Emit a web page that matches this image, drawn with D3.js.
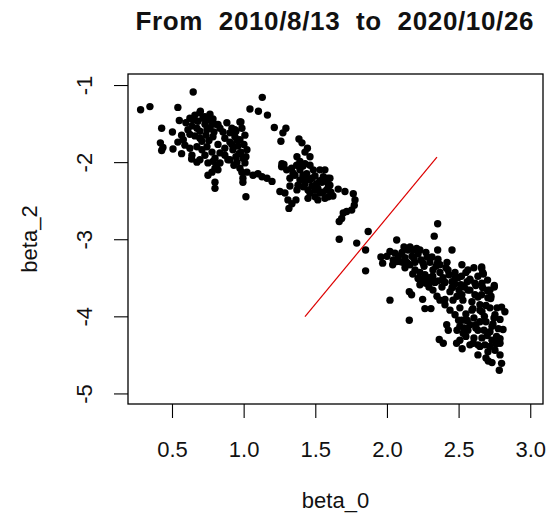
<!DOCTYPE html>
<html>
<head>
<meta charset="utf-8">
<script src="https://cdn.jsdelivr.net/npm/d3@7"></script>
<style>
  html, body { margin: 0; padding: 0; background: #fff; }
  svg text { font-family: "Liberation Sans", Arial, sans-serif; fill: #111; }
</style>
</head>
<body>
<svg id="chart" width="548" height="520"></svg>
<script>
// Daily estimates of the level (beta_0) and curvature (beta_2) factors
const beta0 = [
  0.648, 0.281, 0.346, 0.541, 0.698, 0.551, 0.428, 0.503, 0.567, 0.579,
  0.419, 0.437, 0.428, 0.507, 0.567, 0.637, 0.625, 0.660, 0.695, 0.730,
  0.765, 0.786, 0.681, 0.730, 0.639, 0.765, 0.807, 0.695, 0.737, 0.660,
  0.786, 0.709, 0.821, 0.856, 0.611, 0.751, 0.625, 0.674, 0.709, 0.744,
  0.779, 0.821, 0.835, 0.869, 0.890, 0.786, 0.695, 0.639, 0.674, 0.751,
  0.814, 0.800, 0.779, 0.751, 0.800, 0.800, 0.883, 0.918, 0.946, 0.974,
  0.988, 0.939, 0.974, 1.009, 0.904, 0.960, 1.002, 0.925, 0.981, 1.023,
  0.946, 0.995, 0.953, 1.009, 0.974, 1.023, 0.995, 0.995, 1.016, 0.904,
  0.835, 0.821, 1.065, 1.100, 1.128, 1.163, 1.198, 1.253, 1.288, 1.309,
  1.337, 1.316, 1.365, 1.130, 1.044, 1.103, 1.166, 0.981, 1.214, 1.295,
  1.274, 1.260, 1.386, 1.407, 1.445, 1.428, 1.463, 1.372, 1.393, 1.267,
  0.939, 1.265, 1.300, 1.335, 1.370, 1.428, 1.440, 1.393, 1.416, 1.463,
  1.509, 1.532, 1.579, 1.556, 1.486, 1.463, 1.591, 1.567, 1.358, 1.393,
  1.498, 1.518, 1.477, 1.428, 1.546, 1.602, 1.567, 1.498, 1.449, 1.379,
  1.323, 1.609, 1.579, 1.591, 1.602, 1.660, 1.707, 1.765, 1.777, 1.772,
  1.754, 1.719, 1.695, 1.684, 1.667, 1.869, 1.667, 1.789, 2.068, 1.851,
  1.851, 2.354, 2.330, 2.354, 2.454, 2.354, 1.958, 1.970, 2.021, 2.056,
  2.044, 2.068, 2.021, 2.156, 2.172, 2.249, 2.265, 2.307, 2.156, 2.417,
  2.428, 2.365, 2.525, 2.661, 2.668, 2.749, 2.719, 2.724, 2.800, 2.823,
  2.777, 2.765, 2.789, 2.707, 2.789, 2.800, 2.784, 2.161, 2.207, 2.393,
  2.486, 2.602, 2.649, 2.719, 2.532, 2.509, 2.105, 2.126, 2.147, 2.175,
  2.196, 2.217, 2.238, 2.259, 2.280, 2.300, 2.321, 2.342, 2.370, 2.391,
  2.412, 2.433, 2.454, 2.475, 2.496, 2.516, 2.161, 2.230, 2.286, 2.335,
  2.384, 2.440, 2.489, 2.196, 2.265, 2.126, 2.091, 2.356, 2.419, 2.405,
  2.349, 2.370, 2.293, 2.230, 2.523, 2.551, 2.579, 2.607, 2.635, 2.565,
  2.614, 2.668, 2.702, 2.593, 2.649, 2.704, 2.509, 2.551, 2.607, 2.663,
  2.719, 2.579, 2.635, 2.691, 2.747, 2.523, 2.475, 2.440, 2.489, 2.551,
  2.663, 2.719, 2.607, 2.754, 2.705, 2.768, 2.405, 2.461, 2.530, 2.705,
  2.649, 2.579, 2.684, 2.789, 2.810, 2.635, 2.733, 2.661, 2.673, 2.579,
  2.475, 2.749, 2.703, 2.726, 2.000, 2.080, 2.110, 2.040, 2.180, 2.250,
  2.310, 2.320, 2.400, 2.460, 2.540, 2.520, 2.560, 2.620, 2.600, 2.680,
  2.740, 2.560, 2.620, 2.700, 2.760, 2.500, 2.540, 2.660,
  0.646, 0.716, 0.779, 0.674, 0.744, 0.625, 0.793, 0.695, 0.758, 0.597,
  0.835, 0.869, 0.590, 0.730, 0.869, 0.800, 0.541,
  0.904, 0.953, 0.918, 0.967, 1.016, 0.932, 0.988,
  1.281, 1.344, 1.414, 1.463, 1.532, 1.414, 1.477, 1.532, 1.588, 1.428,
  1.498, 1.553, 1.623, 1.518, 1.372, 1.323, 1.449,
  2.119, 2.182, 2.230, 2.272, 2.314, 2.140, 2.189, 2.252, 2.314, 2.356,
  2.405, 2.454, 2.426, 2.475, 2.370, 2.217, 2.272, 2.321, 2.503, 2.523,
  2.565, 2.614, 2.663, 2.579, 2.635, 2.691, 2.649, 2.593, 2.551, 2.621,
  2.677, 2.733, 2.733, 2.565, 2.509, 2.635, 2.761, 2.691, 2.754, 2.789
];
const beta2 = [
  -1.09, -1.32, -1.28, -1.29, -1.34, -1.46, -1.56, -1.61, -1.65, -1.71,
  -1.75, -1.81, -1.85, -1.83, -1.89, -1.96, -1.43, -1.39, -1.36, -1.41,
  -1.38, -1.44, -1.47, -1.51, -1.53, -1.56, -1.51, -1.60, -1.65, -1.66,
  -1.67, -1.73, -1.51, -1.61, -1.58, -1.45, -1.82, -1.80, -1.84, -1.80,
  -1.87, -1.77, -1.88, -1.82, -1.97, -1.99, -1.97, -1.91, -2.00, -2.01,
  -2.04, -2.08, -2.13, -2.17, -2.26, -2.34, -1.49, -1.56, -1.60, -1.48,
  -1.56, -1.67, -1.71, -1.65, -1.74, -1.79, -1.77, -1.84, -1.87, -1.84,
  -1.93, -1.95, -2.00, -2.01, -2.08, -2.13, -2.21, -2.26, -2.45, -1.97,
  -2.01, -2.10, -2.17, -2.15, -2.19, -2.21, -2.25, -2.38, -2.40, -2.49,
  -2.54, -2.60, -2.49, -1.16, -1.31, -1.34, -1.39, -1.48, -1.55, -1.56,
  -1.62, -1.73, -1.70, -1.75, -1.82, -1.87, -1.93, -1.93, -1.99, -2.02,
  -1.58, -2.06, -2.10, -2.08, -2.04, -2.02, -2.15, -2.23, -2.32, -2.40,
  -2.28, -2.40, -2.36, -2.19, -2.10, -2.23, -2.45, -2.10, -2.17, -2.10,
  -2.18, -2.34, -2.31, -2.21, -2.26, -2.30, -2.47, -2.45, -2.36, -2.30,
  -2.21, -2.39, -2.25, -2.32, -2.21, -2.35, -2.38, -2.41, -2.49, -2.56,
  -2.62, -2.64, -2.66, -2.73, -2.77, -2.90, -3.00, -3.05, -3.01, -3.14,
  -3.41, -2.80, -2.96, -3.14, -3.14, -3.30, -3.23, -3.31, -3.16, -3.18,
  -3.27, -3.29, -3.79, -3.68, -3.72, -3.78, -3.90, -3.90, -4.05, -4.11,
  -4.18, -4.30, -4.42, -3.38, -3.43, -3.62, -3.66, -3.77, -3.88, -3.94,
  -4.16, -4.26, -4.35, -4.58, -4.50, -4.61, -4.70, -3.10, -3.12, -4.35,
  -4.35, -4.35, -4.39, -4.39, -4.22, -4.31, -3.17, -3.24, -3.14, -3.22,
  -3.30, -3.19, -3.27, -3.35, -3.23, -3.30, -3.40, -3.35, -3.43, -3.50,
  -3.37, -3.46, -3.55, -3.43, -3.50, -3.59, -3.33, -3.43, -3.50, -3.56,
  -3.62, -3.68, -3.74, -3.40, -3.46, -3.37, -3.29, -3.26, -3.30, -3.78,
  -3.74, -3.79, -3.62, -3.59, -3.33, -3.43, -3.53, -3.37, -3.48, -3.66,
  -3.72, -3.63, -3.53, -3.81, -3.85, -3.76, -3.89, -3.97, -4.02, -3.94,
  -3.89, -4.11, -4.18, -4.07, -4.02, -4.05, -3.98, -3.92, -4.18, -4.26,
  -4.28, -4.20, -4.28, -4.44, -4.46, -3.89, -3.85, -3.79, -3.79, -3.66,
  -4.07, -4.37, -4.37, -4.04, -4.17, -4.50, -4.60, -3.36, -3.45, -3.52,
  -3.58, -3.60, -3.67, -3.74, -3.22, -3.22, -3.30, -3.33, -3.45, -3.52,
  -3.55, -3.48, -3.55, -3.62, -3.62, -3.48, -3.55, -3.60, -3.90, -4.00,
  -4.10, -4.05, -4.15, -4.25, -4.32, -4.05, -4.15, -3.72,
  -1.45, -1.43, -1.51, -1.56, -1.58, -1.64, -1.61, -1.69, -1.72, -1.49,
  -1.56, -1.69, -1.78, -1.91, -1.91, -1.95, -1.74,
  -1.62, -1.71, -1.77, -1.89, -1.93, -2.04, -2.13,
  -2.03, -2.14, -2.05, -2.04, -2.10, -2.17, -2.21, -2.24, -2.21, -2.28,
  -2.36, -2.39, -2.44, -2.49, -2.36, -2.31, -2.47,
  -3.10, -3.14, -3.14, -3.17, -3.23, -3.30, -3.25, -3.31, -3.49, -3.54,
  -3.56, -3.63, -3.40, -3.50, -3.33, -3.51, -3.57, -3.66, -3.66, -3.72,
  -3.40, -3.57, -3.57, -3.66, -3.75, -3.86, -3.92, -3.92, -4.05, -4.11,
  -4.18, -4.13, -4.31, -4.18, -4.13, -4.37, -4.36, -4.54, -3.98, -4.29
];

// Reference segment drawn across the gap between the two regimes
const segX = [1.428, 2.349];
const segY = [-4.005, -1.934];

const xTicks = [0.5, 1.0, 1.5, 2.0, 2.5, 3.0];
const yTicks = [-1, -2, -3, -4, -5];
const titleText = "From  2010/8/13  to  2020/10/26";

const svg = d3.select("#chart");
const plot = { left: 128, right: 543, top: 74, bottom: 404 };

const x = d3.scaleLinear().domain([0.193, 3.089]).range([plot.left, plot.right]);
const y = d3.scaleLinear().domain([-0.857, -5.137]).range([plot.top, plot.bottom]);

// Title
svg.append("text")
  .attr("x", (plot.left + plot.right) / 2 - 1)
  .attr("y", 30)
  .attr("text-anchor", "middle")
  .attr("xml:space", "preserve")
  .attr("textLength", 398)
  .attr("lengthAdjust", "spacing")
  .style("white-space", "pre")
  .style("font-size", "26px")
  .style("font-weight", "bold")
  .text(titleText);

// Points
const pts = beta0.map((b, i) => [b, beta2[i]]);
svg.append("g")
  .selectAll("circle")
  .data(pts)
  .join("circle")
  .attr("cx", d => x(d[0]))
  .attr("cy", d => y(d[1]))
  .attr("r", 3.7)
  .attr("fill", "#000");

// Reference segment
svg.append("line")
  .attr("x1", x(segX[0])).attr("y1", y(segY[0]))
  .attr("x2", x(segX[1])).attr("y2", y(segY[1]))
  .attr("stroke", "#dd0000")
  .attr("stroke-width", 1.2);

// Bottom axis
const gx = svg.append("g")
  .attr("transform", `translate(0,${plot.bottom})`)
  .call(d3.axisBottom(x).tickValues(xTicks).tickFormat(d3.format(".1f")).tickSize(14));
gx.select(".domain").remove();
gx.selectAll(".tick line").attr("stroke", "#000").attr("stroke-width", 1.1);
gx.selectAll(".tick text")
  .attr("y", 53).attr("dy", 0)
  .style("font-size", "22px");

// Left axis (plain hyphen-minus in the labels)
const gy = svg.append("g")
  .attr("transform", `translate(${plot.left},0)`)
  .call(d3.axisLeft(y).tickValues(yTicks).tickFormat(d => String(d)).tickSize(14));
gy.select(".domain").remove();
gy.selectAll(".tick line").attr("stroke", "#000").attr("stroke-width", 1.1);
gy.selectAll(".tick text")
  .attr("x", null).attr("dy", 0)
  .attr("text-anchor", "middle")
  .attr("transform", "translate(-36.5,0) rotate(-90)")
  .style("font-size", "22px");

// Plot frame
svg.append("rect")
  .attr("x", plot.left).attr("y", plot.top)
  .attr("width", plot.right - plot.left)
  .attr("height", plot.bottom - plot.top)
  .attr("fill", "none")
  .attr("stroke", "#000")
  .attr("stroke-width", 1.3);

// Axis titles
svg.append("text")
  .attr("x", (plot.left + plot.right) / 2)
  .attr("y", 508)
  .attr("text-anchor", "middle")
  .style("font-size", "22px")
  .text("beta_0");

svg.append("text")
  .attr("transform", `translate(37,${(plot.top + plot.bottom) / 2}) rotate(-90)`)
  .attr("text-anchor", "middle")
  .style("font-size", "22px")
  .text("beta_2");
</script>
</body>
</html>
